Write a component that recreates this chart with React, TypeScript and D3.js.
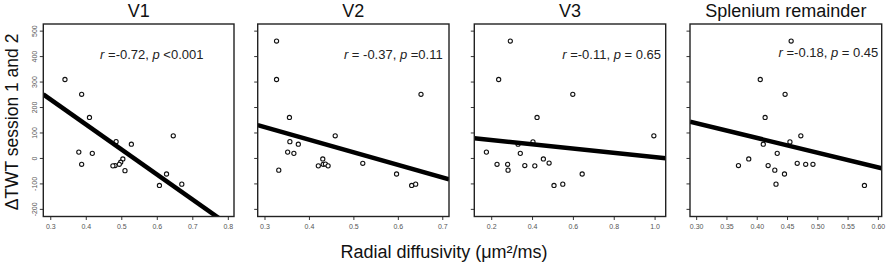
import React from "react";
import * as d3 from "d3";

// ---------- data ----------
const panelTitles = ["V1", "V2", "V3", "Splenium remainder"];

const v1X = [0.340, 0.387, 0.409, 0.379, 0.417, 0.387, 0.484, 0.527, 0.503, 0.497, 0.493, 0.481, 0.475, 0.509, 0.606, 0.626, 0.645, 0.669];
const v1Y = [310, 252, 161, 25, 20, -23, 66, 56, -2, -15, -23, -28, -29, -48, -106, -61, 89, -101];

const v2X = [0.326, 0.326, 0.331, 0.355, 0.356, 0.351, 0.365, 0.375, 0.420, 0.430, 0.431, 0.436, 0.442, 0.458, 0.520, 0.596, 0.630, 0.639, 0.651];
const v2Y = [461, 310, -46, 161, 66, 25, 20, 56, -29, -2, -23, -22, -29, 89, -19, -61, -106, -101, 252];

const v3X = [0.291, 0.234, 0.597, 0.422, 0.174, 0.226, 0.278, 0.280, 0.329, 0.340, 0.362, 0.402, 0.411, 0.453, 0.481, 0.505, 0.548, 0.643, 0.994];
const v3Y = [461, 310, 252, 161, 25, -23, -23, -46, 56, 20, -28, 65, -29, -2, -18, -106, -101, -61, 89];

const spX = [0.456, 0.405, 0.446, 0.413, 0.472, 0.410, 0.454, 0.433, 0.386, 0.369, 0.418, 0.429, 0.445, 0.431, 0.466, 0.480, 0.492, 0.577];
const spY = [461, 310, 252, 161, 89, 56, 65, 20, -2, -28, -28, -46, -61, -101, -19, -23, -23, -106];

const fitSlope = [-983, -495, -83, -576];
const fitIntercept = [526, 271, 88.5, 310.5];

const statR = ["-0.72", "-0.37", "-0.11", "-0.18"];
const statP = ["<0.001", "=0.11", "= 0.65", "= 0.45"];
const statREq = [" =", " = ", " =", " ="];

const xTicks1 = [0.3, 0.4, 0.5, 0.6, 0.7, 0.8];
const xTicks2 = [0.3, 0.4, 0.5, 0.6, 0.7];
const xTicks3 = [0.2, 0.4, 0.6, 0.8, 1.0];
const xTicks4 = [0.30, 0.35, 0.40, 0.45, 0.50, 0.55, 0.60];
const yTicks = [-200, -100, 0, 100, 200, 300, 400, 500];

const yAxisTitle = "ΔTWT session 1 and 2";
const xAxisTitle = "Radial diffusivity (μm²/ms)";

// ---------- layout ----------
const W = 886;
const H = 268;
const TOP = 24;
const BOTTOM = 216.5;
const frames = [
  { x0: 43.3, x1: 234, dom: [0.279, 0.816], ticks: xTicks1, fmt: ".1f", textX: 203.5, textY: 59 },
  { x0: 257.7, x1: 449, dom: [0.2836, 0.714], ticks: xTicks2, fmt: ".1f", textX: 442.7, textY: 59 },
  { x0: 474.3, x1: 665.7, dom: [0.1147, 1.052], ticks: xTicks3, fmt: ".1f", textX: 661, textY: 59 },
  { x0: 690, x1: 881.7, dom: [0.289, 0.6055], ticks: xTicks4, fmt: ".2f", textX: 878.3, textY: 57 },
];
const seriesX = [v1X, v2X, v3X, spX];
const seriesY = [v1Y, v2Y, v3Y, spY];
const FONT = "'Liberation Sans', Arial, Helvetica, sans-serif";

const y = d3.scaleLinear().domain([-228, 528]).range([BOTTOM, TOP]);

function Panel({ i }: { i: number }) {
  const f = frames[i];
  const x = d3.scaleLinear().domain(f.dom).range([f.x0, f.x1]);
  const fmt = d3.format(f.fmt);
  const xs = seriesX[i];
  const ys = seriesY[i];
  const d0 = f.dom[0];
  const d1 = f.dom[1];
  const lineGen = d3
    .line<number>()
    .x((v) => x(v))
    .y((v) => y(fitIntercept[i] + fitSlope[i] * v));
  const clipId = `clip${i}`;
  return (
    <g>
      <clipPath id={clipId}>
        <rect x={f.x0} y={TOP} width={f.x1 - f.x0} height={BOTTOM - TOP} />
      </clipPath>
      <text
        x={(f.x0 + f.x1) / 2}
        y={17}
        textAnchor="middle"
        fontSize={18}
        fontFamily={FONT}
        fill="#111"
      >
        {panelTitles[i]}
      </text>
      {/* x ticks */}
      {f.ticks.map((t) => (
        <g key={t}>
          <line x1={x(t)} x2={x(t)} y1={BOTTOM} y2={BOTTOM + 3.5} stroke="#333" strokeWidth={1} />
          <text x={x(t)} y={228.5} textAnchor="middle" fontSize={7} fontFamily={FONT} fill="#555">
            {fmt(t)}
          </text>
        </g>
      ))}
      {/* y ticks */}
      {yTicks.map((t) => (
        <g key={t}>
          <line x1={f.x0 - 3.5} x2={f.x0} y1={y(t)} y2={y(t)} stroke="#333" strokeWidth={1} />
          {i === 0 && (
            <text
              transform={`translate(${f.x0 - 6},${y(t)}) rotate(-90)`}
              textAnchor="middle"
              fontSize={7}
              fontFamily={FONT}
              fill="#555"
            >
              {t}
            </text>
          )}
        </g>
      ))}
      {/* points */}
      {xs.map((xv, k) => (
        <circle key={k} cx={x(xv)} cy={y(ys[k])} r={2.1} fill="white" stroke="#111" strokeWidth={1.1} />
      ))}
      {/* fit line */}
      <path
        d={lineGen([d0, d1]) || ""}
        stroke="#000"
        strokeWidth={4.5}
        fill="none"
        clipPath={`url(#${clipId})`}
      />
      {/* frame */}
      <rect
        x={f.x0}
        y={TOP}
        width={f.x1 - f.x0}
        height={BOTTOM - TOP}
        fill="none"
        stroke="#222"
        strokeWidth={1.4}
      />
      <text x={f.textX} y={f.textY} textAnchor="end" fontSize={13} fontFamily={FONT} fill="#222">
        <tspan fontStyle="italic">r</tspan>
        <tspan>{statREq[i] + statR[i] + ", "}</tspan>
        <tspan fontStyle="italic">p</tspan>
        <tspan>{" " + statP[i]}</tspan>
      </text>
    </g>
  );
}

export default function App() {
  return (
    <svg
      width={W}
      height={H}
      viewBox={`0 0 ${W} ${H}`}
      style={{ position: "absolute", left: 0, top: 0, background: "white" }}
    >
      <rect x={0} y={0} width={W} height={H} fill="white" />
      {panelTitles.map((_, i) => (
        <Panel key={i} i={i} />
      ))}
      <text
        transform={`translate(17.5,122) rotate(-90)`}
        textAnchor="middle"
        fontSize={17.5}
        fontFamily={FONT}
        fill="#111"
      >
        {yAxisTitle}
      </text>
      <text x={444} y={258} textAnchor="middle" fontSize={18} fontFamily={FONT} fill="#111">
        {xAxisTitle}
      </text>
    </svg>
  );
}
